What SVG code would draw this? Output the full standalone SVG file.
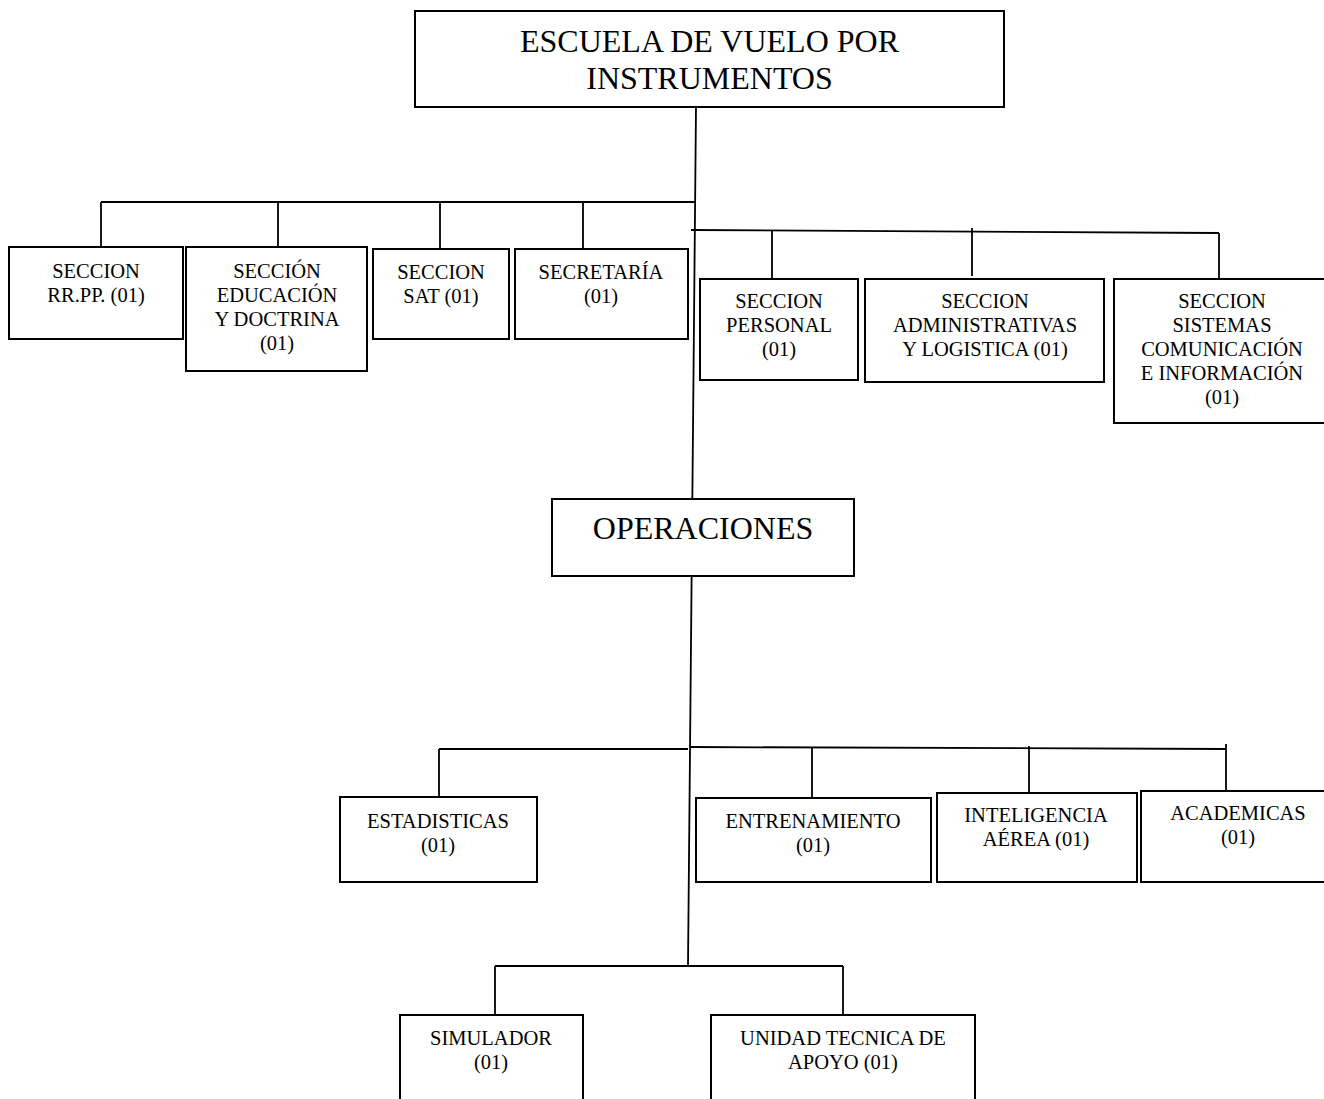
<svg xmlns="http://www.w3.org/2000/svg" width="1324" height="1099" viewBox="0 0 1324 1099">
<style>
.box { fill:#fff; stroke:#000; stroke-width:2; }
.t { font-family:"Liberation Serif","Times New Roman",serif; font-size:20.5px; text-anchor:middle; fill:#000; }
.big { font-size:32px; }
#connectors path { stroke:#000; stroke-width:1.8; fill:none; }
</style>
<rect width="1324" height="1099" fill="#fff"/>
<g id="connectors">
  <path d="M696,107 L688,966"/>
  <path d="M101,202 H695"/>
  <path d="M101,202 V247"/>
  <path d="M278,202 V248"/>
  <path d="M440,202 V249"/>
  <path d="M583,202 V249"/>
  <path d="M691,230 L1219,233"/>
  <path d="M772,230.5 V279"/>
  <path d="M972,228 V276"/>
  <path d="M1219,233 V279"/>
  <path d="M439,749 H688"/>
  <path d="M439,749 V797"/>
  <path d="M690,747 L1226,749"/>
  <path d="M812,747.5 V798"/>
  <path d="M1029,746 V793"/>
  <path d="M1226,744 V791"/>
  <path d="M495,966 H843"/>
  <path d="M495,966 V1015"/>
  <path d="M843,966 V1015"/>
</g>
<g id="escuela">
  <rect class="box" x="415" y="11" width="589" height="96"/>
  <text class="t big" x="709.5" y="52">ESCUELA DE VUELO POR</text>
  <text class="t big" x="709.5" y="89">INSTRUMENTOS</text>
</g>
<g id="rrpp">
  <rect class="box" x="9" y="247" width="174" height="92"/>
  <text class="t" x="96" y="278">SECCION</text>
  <text class="t" x="96" y="302">RR.PP. (01)</text>
</g>
<g id="educacion">
  <rect class="box" x="186" y="247" width="181" height="124"/>
  <text class="t" x="277" y="278">SECCIÓN</text>
  <text class="t" x="277" y="302">EDUCACIÓN</text>
  <text class="t" x="277" y="326">Y DOCTRINA</text>
  <text class="t" x="277" y="350">(01)</text>
</g>
<g id="sat">
  <rect class="box" x="373" y="249" width="136" height="90"/>
  <text class="t" x="441" y="279">SECCION</text>
  <text class="t" x="441" y="303">SAT (01)</text>
</g>
<g id="secretaria">
  <rect class="box" x="515" y="249" width="173" height="90"/>
  <text class="t" x="601" y="279">SECRETARÍA</text>
  <text class="t" x="601" y="303">(01)</text>
</g>
<g id="personal">
  <rect class="box" x="700" y="279" width="158" height="101"/>
  <text class="t" x="779" y="308">SECCION</text>
  <text class="t" x="779" y="332">PERSONAL</text>
  <text class="t" x="779" y="356">(01)</text>
</g>
<g id="administrativas">
  <rect class="box" x="865" y="279" width="239" height="103"/>
  <text class="t" x="985" y="308">SECCION</text>
  <text class="t" x="985" y="332">ADMINISTRATIVAS</text>
  <text class="t" x="985" y="356">Y LOGISTICA (01)</text>
</g>
<g id="sistemas">
  <rect class="box" x="1114" y="279" width="216" height="144"/>
  <text class="t" x="1222" y="308">SECCION</text>
  <text class="t" x="1222" y="332">SISTEMAS</text>
  <text class="t" x="1222" y="356">COMUNICACIÓN</text>
  <text class="t" x="1222" y="380">E INFORMACIÓN</text>
  <text class="t" x="1222" y="404">(01)</text>
</g>
<g id="operaciones">
  <rect class="box" x="552" y="499" width="302" height="77"/>
  <text class="t big" x="703" y="539">OPERACIONES</text>
</g>
<g id="estadisticas">
  <rect class="box" x="340" y="797" width="197" height="85"/>
  <text class="t" x="438" y="828">ESTADISTICAS</text>
  <text class="t" x="438" y="852">(01)</text>
</g>
<g id="entrenamiento">
  <rect class="box" x="696" y="798" width="235" height="84"/>
  <text class="t" x="813" y="828">ENTRENAMIENTO</text>
  <text class="t" x="813" y="852">(01)</text>
</g>
<g id="inteligencia">
  <rect class="box" x="937" y="793" width="200" height="89"/>
  <text class="t" x="1036" y="822">INTELIGENCIA</text>
  <text class="t" x="1036" y="846">AÉREA (01)</text>
</g>
<g id="academicas">
  <rect class="box" x="1141" y="791" width="190" height="91"/>
  <text class="t" x="1238" y="820">ACADEMICAS</text>
  <text class="t" x="1238" y="844">(01)</text>
</g>
<g id="simulador">
  <rect class="box" x="400" y="1015" width="183" height="95"/>
  <text class="t" x="491" y="1045">SIMULADOR</text>
  <text class="t" x="491" y="1069">(01)</text>
</g>
<g id="unidad">
  <rect class="box" x="711" y="1015" width="264" height="95"/>
  <text class="t" x="843" y="1045">UNIDAD TECNICA DE</text>
  <text class="t" x="843" y="1069">APOYO (01)</text>
</g>
</svg>
